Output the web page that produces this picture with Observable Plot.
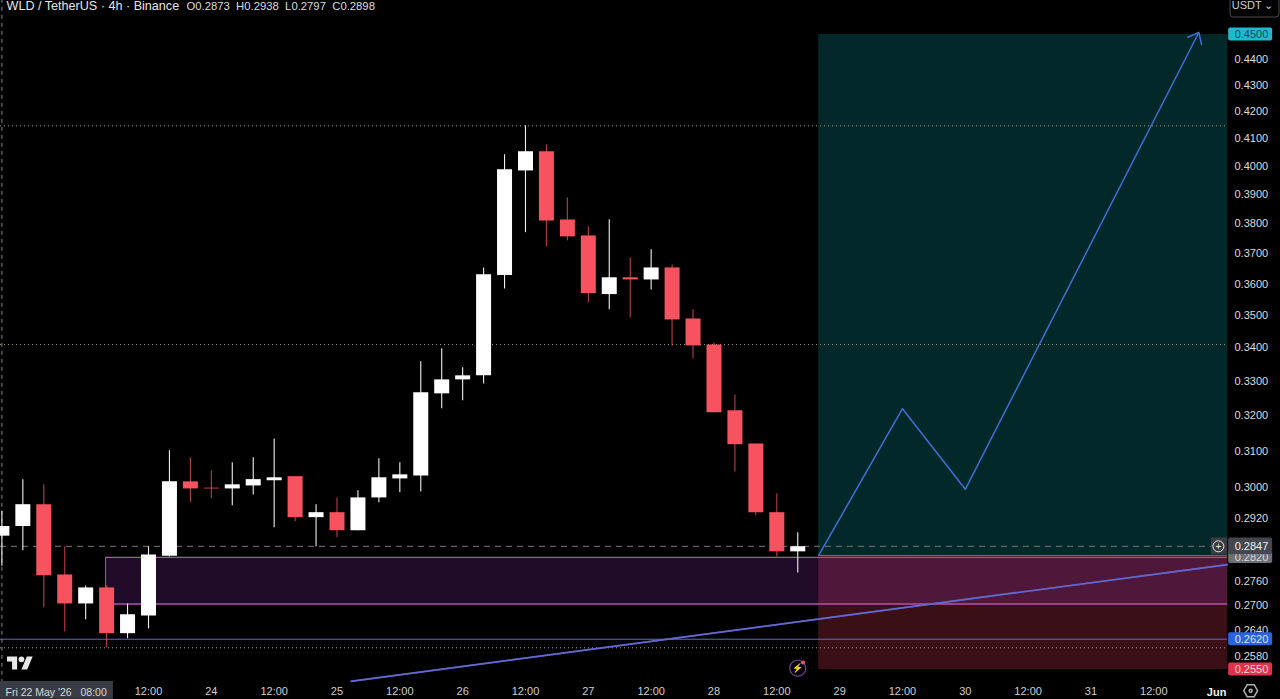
<!DOCTYPE html>
<html>
<head>
<meta charset="utf-8">
<script src="https://cdn.jsdelivr.net/npm/d3@7"></script>
<script src="https://cdn.jsdelivr.net/npm/@observablehq/plot@0.6"></script>
<style>
html,body{margin:0;padding:0;background:#000;overflow:hidden}
#wrap{position:relative;width:1280px;height:699px}
#logo{position:absolute;left:7px;top:653px;width:26px;height:17px}
</style>
</head>
<body>
<div id="wrap"><div id="chart"></div>
<svg id="logo" viewBox="0 0 36 22"><path fill="#e8e8e8" d="M14 22H7V11H0V4h14v18zM28 22h-8l7.5-18h8L28 22z"/><circle fill="#e8e8e8" cx="20" cy="8" r="4"/></svg>
</div>
<script>
// 4h candles, first candle opens Fri 22 May 2026 08:00
const firstCandle = Date.UTC(2026, 4, 22, 8);
const opens  = [.2873,.2898,.2955,.2775,.2704,.2743,.2633,.2675,.2822,.3016,.2999,.2997,.3005,.3019,.3030,.2921,.2934,.2887,.2973,.3024,.3032,.3263,.3304,.3316,.3627,.3983,.4052,.3812,.3758,.3566,.3620,.3613,.3652,.3489,.3409,.3214,.3120,.2934,.2833];
const highs  = [.2938,.3022,.3008,.2846,.2748,.2748,.2704,.2846,.3101,.3082,.3046,.3068,.3082,.3134,.3030,.2955,.2973,.2992,.3079,.3068,.3358,.3397,.3340,.3652,.4041,.4147,.4077,.3888,.3789,.3813,.3685,.3712,.3662,.3518,.3416,.3260,.3120,.2984,.2882];
const lows   = [.2797,.2836,.2695,.2637,.2666,.2600,.2621,.2644,.2820,.2960,.2971,.2952,.2981,.2895,.2910,.2846,.2869,.2887,.2960,.2987,.2989,.3220,.3243,.3292,.3584,.3769,.3722,.3742,.3540,.3518,.3493,.3581,.3406,.3367,.3208,.3043,.2926,.2820,.2780];
const closes = [.2898,.2955,.2773,.2704,.2743,.2633,.2678,.2825,.3016,.2997,.2997,.3008,.3022,.3027,.2921,.2934,.2887,.2973,.3027,.3035,.3266,.3304,.3316,.3630,.3987,.4052,.3809,.3755,.3569,.3620,.3613,.3652,.3486,.3406,.3208,.3118,.2934,.2833,.2846];
const candles = opens.map((o, i) => ({
  t: new Date(firstCandle + i * 4 * 3600e3), o, h: highs[i], l: lows[i], c: closes[i], up: closes[i] >= o
}));

const xTickDates = ["2026-05-23T12:00Z","2026-05-24T00:00Z","2026-05-24T12:00Z","2026-05-25T00:00Z","2026-05-25T12:00Z","2026-05-26T00:00Z","2026-05-26T12:00Z","2026-05-27T00:00Z","2026-05-27T12:00Z","2026-05-28T00:00Z","2026-05-28T12:00Z","2026-05-29T00:00Z","2026-05-29T12:00Z","2026-05-30T00:00Z","2026-05-30T12:00Z","2026-05-31T00:00Z","2026-05-31T12:00Z"].map(d => new Date(d));
const xTickLabels = ["12:00","24","12:00","25","12:00","26","12:00","27","12:00","28","12:00","29","12:00","30","12:00","31","12:00"];
const yTicks = [.44,.43,.42,.41,.40,.39,.38,.37,.36,.35,.34,.33,.32,.31,.30,.292,.276,.27,.264,.258];

const xStart = new Date("2026-05-22T07:44Z"), xEnd = new Date("2026-06-01T12:12Z");
const panelEdge = new Date("2026-06-01T02:07Z");
const tradeStart = new Date("2026-05-28T20:00Z");
const target = .45, entry = .2824, stop = .255;
const boxStart = new Date("2026-05-23T03:48Z"), boxTop = .2819, boxBottom = .2704;
const supportLevel = .262, lastPrice = .2847;
const dottedLevels = [.4147, .341, .2600];
const trend = [{x1: new Date("2026-05-25T02:36Z"), y1: .2523, x2: panelEdge, y2: .2801}];
const pathTimes = ["2026-05-28T20:00Z","2026-05-29T12:00Z","2026-05-30T00:00Z"].map(d => new Date(d));
const pathPrices = [.2824,.322,.2996];
const arrowLeg = [{x1: pathTimes[2], y1: pathPrices[2], x2: new Date("2026-05-31T20:36Z"), y2: .4508}];

const lowerTags = [
  {p: .45,   text: "0.4500", fill: "#22b8d0", color: "#0d4a58"},
  {p: .2820, text: "0.2820", fill: "#6e7078", color: "#d8d8d8"}
];
const lastTag = {p: .2847, text: "0.2847", fill: "#45474e", color: "#f0f0f0"};
const upperTags = [
  {p: .262,  text: "0.2620", fill: "#2a63e0", color: "#dfe8ff"},
  {p: .255,  text: "0.2550", fill: "#e0324a", color: "#ffd8dc"}
];
const tagX1 = new Date("2026-06-01T02:18Z"), tagX2 = new Date("2026-06-01T10:42Z");
const tagSpread = 1.0058, lastSpread = 1.0075;
const font = "Liberation Sans, Arial, sans-serif";
const BLUE = "#3f6fd6", RED = "#f7525f";

const tagMarks = (list, spread) => [
  Plot.rect(list, {x1: tagX1, x2: tagX2, y1: d => d.p / spread, y2: d => d.p * spread, fill: "fill", r: 2}),
  Plot.text(list, {x: tagX1, y: "p", text: "text", fill: "color", textAnchor: "start", dx: 6, fontSize: 11})
];

const chart = Plot.plot({
  width: 1280, height: 699,
  marginLeft: 0, marginTop: 0, marginRight: 53, marginBottom: 18,
  style: {background: "#000", fontFamily: font, display: "block"},
  x: {type: "utc", domain: [xStart, xEnd], range: [0, 1280]},
  y: {type: "log", domain: [stop, target], range: [669, 34]},
  marks: [
    // position zones
    Plot.rect([0], {x1: tradeStart, x2: panelEdge, y1: entry, y2: target, fill: "#03282a"}),
    Plot.rect([0], {x1: tradeStart, x2: panelEdge, y1: stop, y2: entry, fill: "#3a0f16"}),
    // demand box
    Plot.rect([0], {x1: boxStart, x2: panelEdge, y1: boxBottom, y2: boxTop, fill: "#b040e0", fillOpacity: .18}),
    Plot.ruleY([boxTop], {x1: boxStart, x2: panelEdge, stroke: "#a850b8", strokeWidth: 1.3}),
    Plot.ruleY([boxBottom], {x1: boxStart, x2: panelEdge, stroke: "#b850b0", strokeWidth: 1.6}),
    Plot.ruleX([boxStart], {y1: boxBottom, y2: boxTop, stroke: "#a850b8", strokeWidth: 1}),
    // levels
    Plot.ruleY(dottedLevels, {stroke: "#a0a090", strokeDasharray: "1 3", strokeWidth: 1}),
    Plot.ruleY([supportLevel], {stroke: "#5f68cc", strokeWidth: 1}),
    Plot.ruleY([lastPrice], {stroke: "#777", strokeDasharray: "6 5", strokeWidth: 1}),
    Plot.ruleY([entry], {x1: tradeStart, x2: panelEdge, stroke: "#6a7a80", strokeWidth: 1}),
    Plot.ruleX([new Date(firstCandle)], {y1: .2483, y2: .47, stroke: "#888", strokeDasharray: "4 4", strokeWidth: 1}),
    // candles
    Plot.ruleX(candles, {x: "t", y1: "l", y2: "h", stroke: d => d.up ? "#f0f0f0" : RED, strokeOpacity: d => d.up ? 1 : .75, strokeWidth: 1.1}),
    Plot.ruleX(candles, {x: "t", y1: "o", y2: "c", stroke: d => d.up ? "#fff" : RED, strokeWidth: 15}),
    // trend line and projected path
    Plot.link(trend, {x1: "x1", y1: "y1", x2: "x2", y2: "y2", stroke: BLUE, strokeWidth: 1.7}),
    Plot.link(trend, {x1: "x1", y1: "y1", x2: "x2", y2: "y2", stroke: "#9060d0", strokeOpacity: .5, strokeWidth: 1.7}),
    Plot.line(pathTimes.map((t, i) => ({t, p: pathPrices[i]})), {x: "t", y: "p", stroke: BLUE, strokeWidth: 1.5}),
    Plot.arrow(arrowLeg, {x1: "x1", y1: "y1", x2: "x2", y2: "y2", stroke: BLUE, strokeWidth: 1.5, bend: 0, headLength: 12, headAngle: 80, inset: 0}),
    // axes
    Plot.axisY(yTicks, {anchor: "right", label: null, tickSize: 0, tickPadding: 7, tickFormat: d => d.toFixed(4), fill: "#dcdcdc", fontSize: 11}),
    Plot.axisX(xTickDates, {anchor: "bottom", label: null, tickSize: 0, tickPadding: 6, tickFormat: (d, i) => xTickLabels[i], fill: "#cfcfcf", fontSize: 11}),
    // price tags
    ...tagMarks(lowerTags, tagSpread),
    ...tagMarks([lastTag], lastSpread),
    ...tagMarks(upperTags, tagSpread),
    // last-price plus button
    Plot.rect([0], {x1: new Date("2026-05-31T23:00Z"), x2: panelEdge, y1: lastPrice / lastSpread, y2: lastPrice * lastSpread, fill: "#3a3c42"}),
    Plot.dot([0], {x: new Date("2026-06-01T00:20Z"), y: lastPrice, r: 5.5, stroke: "#e8e8e8", strokeWidth: 1}),
    Plot.text(["+"], {x: new Date("2026-06-01T00:20Z"), y: lastPrice, fill: "#e8e8e8", fontSize: 10}),
    // header
    Plot.text(["WLD / TetherUS · 4h · Binance"], {frameAnchor: "top-left", dx: 6, dy: 1, fill: "#e6e6e6", fontSize: 12.6}),
    Plot.text(["O0.2873  H0.2938  L0.2797  C0.2898"], {frameAnchor: "top-left", dx: 186, dy: 1, fill: "#dcdcdc", fontSize: 11.3}),
    // USDT button
    Plot.rect([0], {x1: new Date("2026-06-01T02:40Z"), x2: new Date("2026-06-01T12:00Z"), y1: .4569, y2: .4660, stroke: "#4a4a4a", fill: "#000", r: 3}),
    Plot.text(["USDT ⌄"], {frameAnchor: "top-right", dx: 46, dy: 1, fill: "#d0d0d0", fontSize: 11}),
    // crosshair time label
    Plot.rect([0], {x1: xStart, x2: new Date("2026-05-23T05:18Z"), y1: .2483, y2: .2523, fill: "#3a3c44"}),
    Plot.text(["Fri 22 May '26   08:00"], {frameAnchor: "bottom-left", dx: 5, dy: 14, fill: "#d8d8d8", fontSize: 10.5, textAnchor: "start", lineAnchor: "bottom"}),
    // small icons
    Plot.dot([0], {x: new Date("2026-05-28T16:00Z"), y: .2553, r: 8, stroke: "#6e3a8e", strokeWidth: 1.3}),
    Plot.text(["⚡"], {x: new Date("2026-05-28T16:00Z"), y: .2553, fill: "#a050d0", fontSize: 9}),
    Plot.dot([0], {x: new Date("2026-05-28T17:00Z"), y: .2566, r: 2, fill: "#f7525f"}),
    Plot.dot([0], {x: new Date("2026-06-01T06:30Z"), y: .2502, r: 6, symbol: "hexagon", rotate: 90, stroke: "#b0b0b0"}),
    Plot.dot([0], {x: new Date("2026-06-01T06:30Z"), y: .2502, r: 1.5, stroke: "#b0b0b0"}),
    Plot.text(["Jun"], {x: new Date("2026-06-01T00:00Z"), frameAnchor: "bottom", dy: 14, lineAnchor: "bottom", fill: "#f0f0f0", fontSize: 11, fontWeight: "bold"})
  ]
});
document.getElementById("chart").appendChild(chart);
</script>
</body>
</html>
